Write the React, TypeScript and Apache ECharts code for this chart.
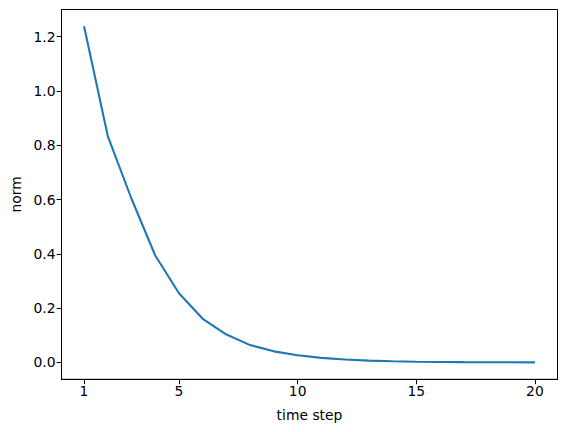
import React, { useEffect, useRef } from "react";
import * as echarts from "echarts";

const steps = [1, 2, 3, 4, 5, 6, 7, 8, 9, 10, 11, 12, 13, 14, 15, 16, 17, 18, 19, 20];
const norms = [1.238, 0.834, 0.603, 0.394, 0.255, 0.161, 0.103, 0.064, 0.041, 0.027, 0.017, 0.011, 0.007, 0.0045, 0.003, 0.002, 0.0013, 0.0009, 0.0006, 0.0004];
const xTicks = [1, 5, 10, 15, 20];
const yTicks = [0, 0.2, 0.4, 0.6, 0.8, 1.0, 1.2];

export default function App() {
  const ref = useRef<HTMLDivElement>(null);
  useEffect(() => {
    if (!ref.current) return;
    const chart = echarts.init(ref.current, null, { renderer: "svg" });
    const font = "DejaVu Sans";
    chart.setOption({
      animation: false,
      grid: {
        left: 61.5,
        right: 9.5,
        top: 9.5,
        bottom: 52.7,
        show: true,
        borderColor: "#000",
        borderWidth: 1,
        backgroundColor: "transparent",
      },
      xAxis: {
        type: "value",
        min: 0.05,
        max: 20.95,
        name: "time step",
        nameLocation: "middle",
        nameGap: 29,
        nameTextStyle: { fontFamily: font, fontSize: 13.9, color: "#000" },
        axisLine: { show: true, onZero: false, lineStyle: { color: "#000", width: 1 } },
        axisTick: { show: true, length: 4.9, lineStyle: { color: "#000", width: 1 }, customValues: xTicks },
        axisLabel: { fontFamily: font, fontSize: 13.9, color: "#000", margin: 5, customValues: xTicks },
        splitLine: { show: false },
      },
      yAxis: {
        type: "value",
        min: -0.0619,
        max: 1.2999,
        name: "norm",
        nameLocation: "middle",
        nameGap: 38,
        nameTextStyle: { fontFamily: font, fontSize: 13.9, color: "#000" },
        axisLine: { show: true, onZero: false, lineStyle: { color: "#000", width: 1 } },
        axisTick: { show: true, length: 4.9, lineStyle: { color: "#000", width: 1 }, customValues: yTicks },
        axisLabel: {
          fontFamily: font,
          fontSize: 13.9,
          color: "#000",
          margin: 6,
          customValues: yTicks,
          formatter: (v: number) => v.toFixed(1),
        },
        splitLine: { show: false },
      },
      series: [
        {
          type: "line",
          data: steps.map((s, i) => [s, norms[i]]),
          symbol: "none",
          lineStyle: { color: "#1f77b4", width: 2.08 },
        },
      ],
    });
    return () => chart.dispose();
  }, []);
  return (
    <div
      ref={ref}
      style={{ position: "fixed", left: 0, top: 0, width: 567, height: 432, background: "#fff" }}
    />
  );
}
